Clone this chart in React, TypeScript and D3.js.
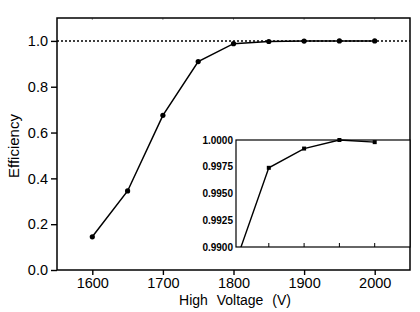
import * as d3 from 'd3';
import { useEffect, useRef } from 'react';

const voltages = [1600, 1650, 1700, 1750, 1800, 1850, 1900, 1950, 2000];
const efficiency = [0.145, 0.345, 0.675, 0.91, 0.988, 0.9974, 0.9992, 1.0, 0.9998];
const xTicks = [1600, 1700, 1800, 1900, 2000];
const yTicks = [0.0, 0.2, 0.4, 0.6, 0.8, 1.0];
const insetYTicks = [0.99, 0.9925, 0.995, 0.9975, 1.0];
const insetXTicks = [1850, 1900, 1950, 2000];

const W = 420;
const H = 312;
const margin = { left: 57, right: 10, top: 18, bottom: 42 };
const inset = { left: 236, top: 140, bottom: 247 };
const FONT = 'Liberation Sans, Arial, sans-serif';

export default function App() {
  const ref = useRef<SVGSVGElement>(null);

  useEffect(() => {
    const svg = d3.select(ref.current);
    svg.selectAll('*').remove();

    const x = d3.scaleLinear().domain([1550, 2050]).range([margin.left, W - margin.right]);
    const y = d3.scaleLinear().domain([0, 1.1]).range([H - margin.bottom, margin.top]);
    const right = W - margin.right;
    const bottom = H - margin.bottom;

    // axes
    const xAxis = svg.append('g').attr('transform', `translate(0,${bottom})`)
      .call(d3.axisBottom(x).tickValues(xTicks).tickSize(5).tickPadding(3).tickFormat(d3.format('d')));
    const yAxis = svg.append('g').attr('transform', `translate(${margin.left},0)`)
      .call(d3.axisLeft(y).tickValues(yTicks).tickSize(6).tickPadding(3).tickFormat(d3.format('.1f')));
    [xAxis, yAxis].forEach((g) => {
      g.select('.domain').remove();
      g.selectAll('line').attr('stroke', '#000').attr('stroke-width', 1.4);
      g.selectAll('text').attr('font-family', FONT).attr('font-size', 14.5).attr('fill', '#000');
    });

    // top minor ticks
    svg.append('g').selectAll('line').data(xTicks).join('line')
      .attr('x1', (d) => x(d)).attr('x2', (d) => x(d))
      .attr('y1', margin.top).attr('y2', margin.top + 2)
      .attr('stroke', '#999').attr('stroke-width', 1);

    // frame
    svg.append('rect')
      .attr('x', margin.left).attr('y', margin.top)
      .attr('width', right - margin.left).attr('height', bottom - margin.top)
      .attr('fill', 'none').attr('stroke', '#000').attr('stroke-width', 1.5);

    // reference line at 1.0
    svg.append('line')
      .attr('x1', margin.left).attr('x2', right)
      .attr('y1', y(1)).attr('y2', y(1))
      .attr('stroke', '#000').attr('stroke-width', 1.5).attr('stroke-dasharray', '2,2');

    const line = d3.line<number>().x((_, i) => x(voltages[i])).y((d) => y(d));
    svg.append('path').datum(efficiency).attr('d', line)
      .attr('fill', 'none').attr('stroke', '#000').attr('stroke-width', 1.5);
    svg.append('g').selectAll('circle').data(efficiency).join('circle')
      .attr('cx', (_, i) => x(voltages[i])).attr('cy', (d) => y(d)).attr('r', 2.6).attr('fill', '#000');

    // inset
    const yi = d3.scaleLinear().domain([0.99, 1.0]).range([inset.bottom, inset.top]);
    svg.append('defs').append('clipPath').attr('id', 'inset-clip')
      .append('rect').attr('x', inset.left).attr('y', inset.top - 3)
      .attr('width', right - inset.left).attr('height', inset.bottom - inset.top + 3);
    svg.append('rect')
      .attr('x', inset.left).attr('y', inset.top)
      .attr('width', right - inset.left).attr('height', inset.bottom - inset.top)
      .attr('fill', '#fff').attr('stroke', '#000').attr('stroke-width', 1.2);

    const ig = svg.append('g').attr('clip-path', 'url(#inset-clip)');
    const insetLine = d3.line<number>().x((_, i) => x(voltages[i])).y((d) => yi(d));
    ig.append('path').datum(efficiency).attr('d', insetLine)
      .attr('fill', 'none').attr('stroke', '#000').attr('stroke-width', 1.4);
    const insetPts = efficiency.map((d, i) => ({ v: voltages[i], e: d })).filter((p) => p.e >= 0.99);
    ig.selectAll('rect.pt').data(insetPts).join('rect')
      .attr('class', 'pt')
      .attr('x', (p) => x(p.v) - 2).attr('y', (p) => yi(p.e) - 2)
      .attr('width', 4).attr('height', 4).attr('fill', '#000');

    svg.append('g').selectAll('line').data(insetXTicks).join('line')
      .attr('x1', (d) => x(d)).attr('x2', (d) => x(d))
      .attr('y1', inset.bottom).attr('y2', inset.bottom - 4)
      .attr('stroke', '#000').attr('stroke-width', 1);

    svg.append('g').selectAll('text').data(insetYTicks).join('text')
      .attr('x', inset.left - 3).attr('y', (d) => yi(d))
      .attr('dy', '0.35em').attr('text-anchor', 'end')
      .attr('font-family', FONT).attr('font-size', 10).attr('font-weight', 'bold')
      .text((d) => d3.format('.4f')(d));

    // axis labels
    svg.append('text')
      .attr('x', 235).attr('y', 305)
      .attr('text-anchor', 'middle')
      .attr('font-family', FONT).attr('font-size', 14).attr('word-spacing', 5)
      .text('High Voltage (V)');
    svg.append('text')
      .attr('transform', `translate(19,146) rotate(-90)`)
      .attr('text-anchor', 'middle')
      .attr('font-family', FONT).attr('font-size', 15)
      .text('Efficiency');
  }, []);

  return (
    <svg
      ref={ref}
      width={W}
      height={H}
      style={{ position: 'absolute', left: 0, top: 0, background: '#fff' }}
    />
  );
}
